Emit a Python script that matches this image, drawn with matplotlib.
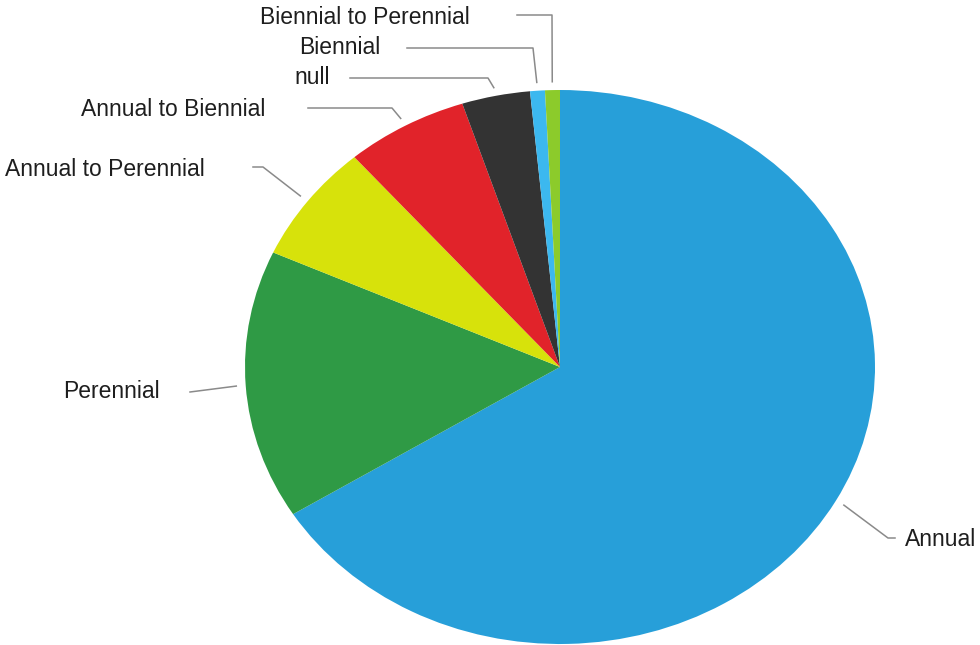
import numpy as np
import matplotlib.pyplot as plt

plt.rcParams['font.family'] = ['Liberation Sans', 'DejaVu Sans']

labels = ['Annual', 'Perennial', 'Annual to Perennial', 'Annual to Biennial',
          'null', 'Biennial', 'Biennial to Perennial']
shares = [66.1, 15.7, 6.9, 6.3, 3.5, 0.76, 0.76]
colors = ['#279fd9', '#2f9a45', '#d7e20b', '#e1232a', '#333333', '#3cb8ef', '#8ccb2b']

# label layout in pixels: text anchor (x, y, ha) and elbow point of the leader line
text_pos = [(905, 540, 'left'), (160, 391, 'right'), (205, 169, 'right'),
            (265, 109, 'right'), (330, 78, 'right'), (380, 48, 'right'),
            (470, 18, 'right')]
line_start = [(895, 538), (190, 392), (253, 167), (308, 108), (350, 78),
              (407, 48), (517, 15)]
elbow = [(888, 538), None, (263, 167), (392, 108), (488, 78), (533, 48), (552, 15)]

W, H = 980, 645
fig = plt.figure(figsize=(W / 100, H / 100), dpi=100)

# pie axes, stretched horizontally like the reference
ax = fig.add_axes([245 / W, 1 / H, 630 / W, 554 / H])
wedges, _ = ax.pie(shares, colors=colors, startangle=90, counterclock=False,
                   wedgeprops=dict(linewidth=0))
ax.set_aspect('auto')
ax.set_xlim(-1, 1)
ax.set_ylim(-1, 1)
ax.axis('off')

ov = fig.add_axes([0, 0, 1, 1])
ov.set_xlim(0, W)
ov.set_ylim(H, 0)
ov.axis('off')

to_px = ax.transData + ov.transData.inverted()
for i, w in enumerate(wedges):
    mid = np.deg2rad((w.theta1 + w.theta2) / 2)
    ax_pt = to_px.transform((1.03 * np.cos(mid), 1.03 * np.sin(mid)))
    pts = [line_start[i]]
    if elbow[i] is not None:
        pts.append(elbow[i])
    pts.append(tuple(ax_pt))
    xs, ys = zip(*pts)
    ov.plot(xs, ys, color='#8a8a8a', lw=1.1)
    tx, ty, ha = text_pos[i]
    ov.text(tx, ty, labels[i], ha=ha, va='center', fontsize=16.5, color='#1e1e1e')

fig.savefig('out.png', dpi=100)
